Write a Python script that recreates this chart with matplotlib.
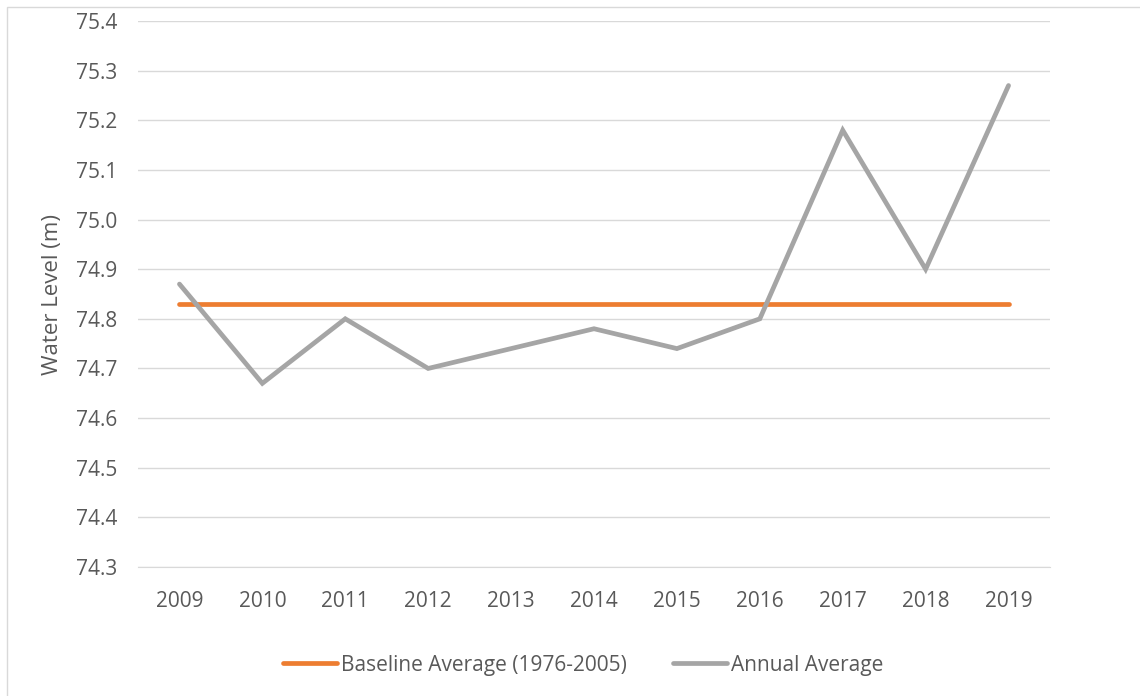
import matplotlib.pyplot as plt
from matplotlib.patches import Rectangle

years = ['2009', '2010', '2011', '2012', '2013', '2014', '2015', '2016', '2017', '2018', '2019']
annual = [74.87, 74.67, 74.80, 74.70, 74.74, 74.78, 74.74, 74.80, 75.18, 74.90, 75.27]
baseline = [74.83] * len(years)

plt.rcParams['font.family'] = ['Open Sans', 'DejaVu Sans']
txt = '#595959'

fig = plt.figure(figsize=(11.4, 6.96), dpi=100)
ax = fig.add_axes([138/1140, 1 - 567/696, 912/1140, 546/696])

x = range(len(years))
ax.plot(x, baseline, color='#ED7D31', lw=3.4, solid_capstyle='round', label='Baseline Average (1976-2005)', zorder=3)
ax.plot(x, annual, color='#A5A5A5', lw=3.4, solid_capstyle='round', solid_joinstyle='miter', label='Annual Average', zorder=4)

ax.set_xlim(-0.5, 10.5)
ax.set_ylim(74.3, 75.4)
ax.set_yticks([74.3 + 0.1 * i for i in range(12)])
ax.set_yticklabels(['%.1f' % (74.3 + 0.1 * i) for i in range(12)])
ax.set_xticks(list(x))
ax.set_xticklabels(years)
ax.grid(axis='y', color='#D9D9D9', lw=1)
ax.set_axisbelow(True)
for s in ['top', 'right', 'left']:
    ax.spines[s].set_visible(False)
ax.spines['bottom'].set_color('#D9D9D9')
ax.tick_params(length=0, labelsize=15, colors=txt)
ax.tick_params(axis='x', pad=17)
ax.tick_params(axis='y', pad=15)
ax.set_ylabel('Water Level (m)', fontsize=16, color=txt, labelpad=9)

fig.legend(loc='center', bbox_to_anchor=(583/1140, 1 - 665/696), ncol=2, frameon=False,
           fontsize=15, labelcolor=txt, handlelength=2.6, handletextpad=0.2, columnspacing=2.2)

fig.patches.append(Rectangle((7/1140, -0.1), 1.2, 1 - 7/696 + 0.1, transform=fig.transFigure,
                             fill=False, edgecolor='#D9D9D9', lw=1))

fig.savefig('out.png', dpi=100)
